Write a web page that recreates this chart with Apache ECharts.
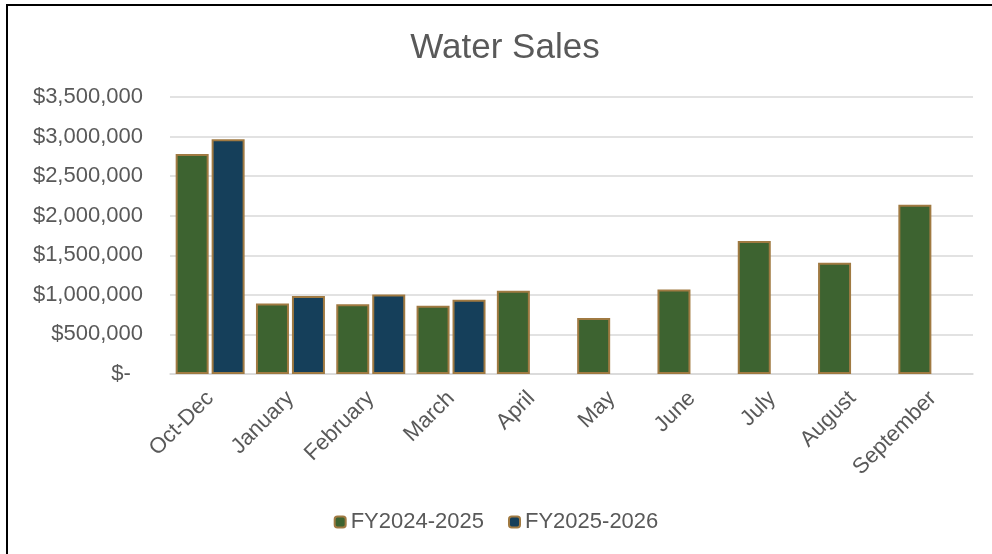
<!DOCTYPE html>
<html>
<head>
<meta charset="utf-8">
<script src="https://cdn.jsdelivr.net/npm/echarts@6/dist/echarts.min.js"></script>
<style>html,body{margin:0;padding:0;background:#fff}#c{width:992px;height:554px}</style>
</head>
<body>
<div id="c"></div>
<script>
var categories = ['Oct-Dec','January','February','March','April','May','June','July','August','September'];
var fy2425 = [2780000, 890000, 880000, 862000, 1052000, 709000, 1068000, 1680000, 1405000, 2140000];
var fy2526 = [2967000, 987000, 1005000, 937000, '-', '-', '-', '-', '-', '-'];
var seriesNames = ['FY2024-2025', 'FY2025-2026'];
var yTicks = {min: 0, max: 3500000, interval: 500000};

function fmt(v){
  if (v === 0) return '$-  ';
  return '$' + v.toString().replace(/\B(?=(\d{3})+(?!\d))/g, ',');
}
var chart = echarts.init(document.getElementById('c'), null, {renderer:'canvas'});
var textColor = '#595959';
var font = 'Liberation Sans, Arial, sans-serif';
chart.setOption({
  animation: false,
  backgroundColor: '#fff',
  title: {
    text: 'Water Sales', left: 500, top: 26, textAlign: 'center',
    textStyle: {color: textColor, fontSize: 35, fontWeight: 'normal', fontFamily: font}
  },
  legend: {
    bottom: 16, left: 'center', itemWidth: 11, itemHeight: 11, itemGap: 24,
    textStyle: {color: textColor, fontSize: 22, fontFamily: font},
    data: seriesNames
  },
  grid: {left: 170, right: 19, top: 97, bottom: 180, containLabel: false},
  xAxis: {
    type: 'category', data: categories,
    axisLine: {lineStyle: {color: '#d9d9d9', width: 1.5}},
    axisTick: {show: false},
    axisLabel: {rotate: 45, color: textColor, fontSize: 22, fontFamily: font, margin: 21, interval: 0}
  },
  yAxis: {
    type: 'value', min: yTicks.min, max: yTicks.max, interval: yTicks.interval,
    axisLine: {show: false}, axisTick: {show: false},
    splitLine: {lineStyle: {color: '#d9d9d9', width: 1.5}},
    axisLabel: {color: textColor, fontSize: 22, fontFamily: font, margin: 27, formatter: fmt}
  },
  series: [
    {name: seriesNames[0], type: 'bar', data: fy2425, barWidth: 33, barGap: '9%',
     itemStyle: {color: '#3D6330', borderColor: '#A07A42', borderWidth: 2}},
    {name: seriesNames[1], type: 'bar', data: fy2526, barWidth: 33,
     itemStyle: {color: '#153F5A', borderColor: '#A07A42', borderWidth: 2}}
  ],
  graphic: [
    {type: 'rect', shape: {x: 6, y: 4, width: 986, height: 2}, style: {fill: '#000'}},
    {type: 'rect', shape: {x: 6, y: 4, width: 2, height: 550}, style: {fill: '#000'}}
  ]
});
</script>
</body>
</html>
